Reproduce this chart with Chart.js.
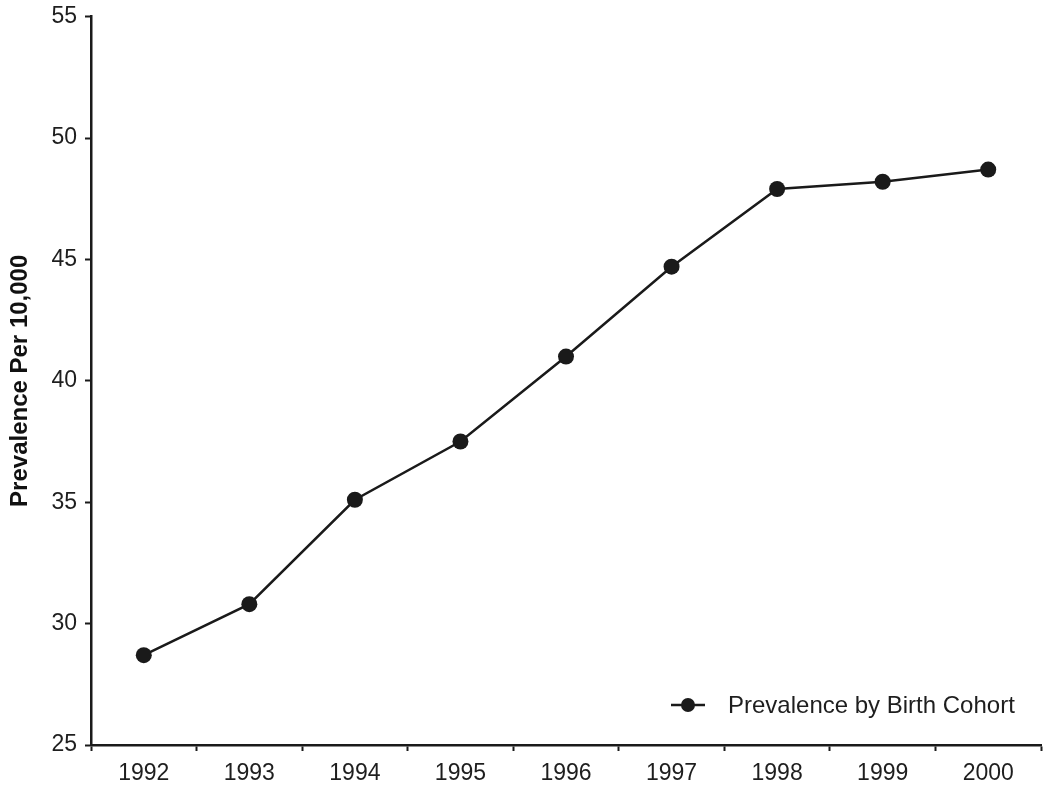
<!DOCTYPE html>
<html>
<head>
<meta charset="utf-8">
<script src="https://cdn.jsdelivr.net/npm/chart.js@4/dist/chart.umd.min.js"></script>
<style>
  html, body { margin: 0; padding: 0; background: #fff; }
  #wrap { width: 1050px; height: 798px; }
</style>
</head>
<body>
<div id="wrap"><canvas id="prevChart" width="1050" height="798"></canvas></div>
<script>
  // 資料
  const years = ['1992', '1993', '1994', '1995', '1996', '1997', '1998', '1999', '2000'];
  const prevalence = [28.7, 30.8, 35.1, 37.5, 41.0, 44.7, 47.9, 48.2, 48.7];
  const seriesLabel = 'Prevalence by Birth Cohort';
  const yTitle = 'Prevalence Per 10,000';

  const INK = '#1a1a1a';
  const FONT = '"Liberation Sans", Arial, Helvetica, sans-serif';

  // 圖例畫在圖表區右下角
  const insideLegend = {
    id: 'insideLegend',
    afterDraw(chart) {
      const ctx = chart.ctx;
      const area = chart.chartArea;
      const y = area.bottom - 40;
      const x0 = area.right - 370;
      ctx.save();
      ctx.strokeStyle = INK;
      ctx.lineWidth = 2.5;
      ctx.beginPath();
      ctx.moveTo(x0, y);
      ctx.lineTo(x0 + 34, y);
      ctx.stroke();
      ctx.fillStyle = INK;
      ctx.beginPath();
      ctx.arc(x0 + 17, y, 7, 0, Math.PI * 2);
      ctx.fill();
      ctx.font = '24px ' + FONT;
      ctx.textBaseline = 'middle';
      ctx.fillStyle = '#1e1e1e';
      ctx.fillText(seriesLabel, x0 + 57, y + 1);
      ctx.restore();
    }
  };

  new Chart(document.getElementById('prevChart'), {
    type: 'line',
    data: {
      labels: years,
      datasets: [{
        label: seriesLabel,
        data: prevalence,
        borderColor: INK,
        backgroundColor: INK,
        borderWidth: 2.5,
        pointRadius: 8,
        pointHoverRadius: 8,
        pointBackgroundColor: INK,
        pointBorderWidth: 0,
        tension: 0
      }]
    },
    options: {
      responsive: false,
      animation: false,
      layout: { padding: { top: 6, right: 9, left: 0, bottom: 0 } },
      plugins: { legend: { display: false }, tooltip: { enabled: false } },
      scales: {
        x: {
          offset: true,
          grid: {
            offset: true,
            drawOnChartArea: false,
            drawTicks: true,
            tickLength: 6,
            tickWidth: 2,
            tickColor: INK
          },
          border: { color: INK, width: 2.5 },
          ticks: { color: '#1e1e1e', font: { family: FONT, size: 23 }, padding: 9, maxRotation: 0 },
          afterFit(scale) { scale.height = 53; }
        },
        y: {
          min: 25,
          max: 55,
          grid: {
            drawOnChartArea: false,
            drawTicks: true,
            tickLength: 6,
            tickWidth: 2,
            tickColor: INK
          },
          border: { color: INK, width: 2.5 },
          ticks: { stepSize: 5, color: '#1e1e1e', font: { family: FONT, size: 23, lineHeight: 0.75 }, padding: 8 },
          title: {
            display: true,
            text: yTitle,
            color: '#111',
            font: { family: FONT, size: 24, weight: 'bold' },
            padding: { top: 6, bottom: 0 }
          },
          afterFit(scale) { scale.width = 91; }
        }
      }
    },
    plugins: [insideLegend]
  });
</script>
</body>
</html>
